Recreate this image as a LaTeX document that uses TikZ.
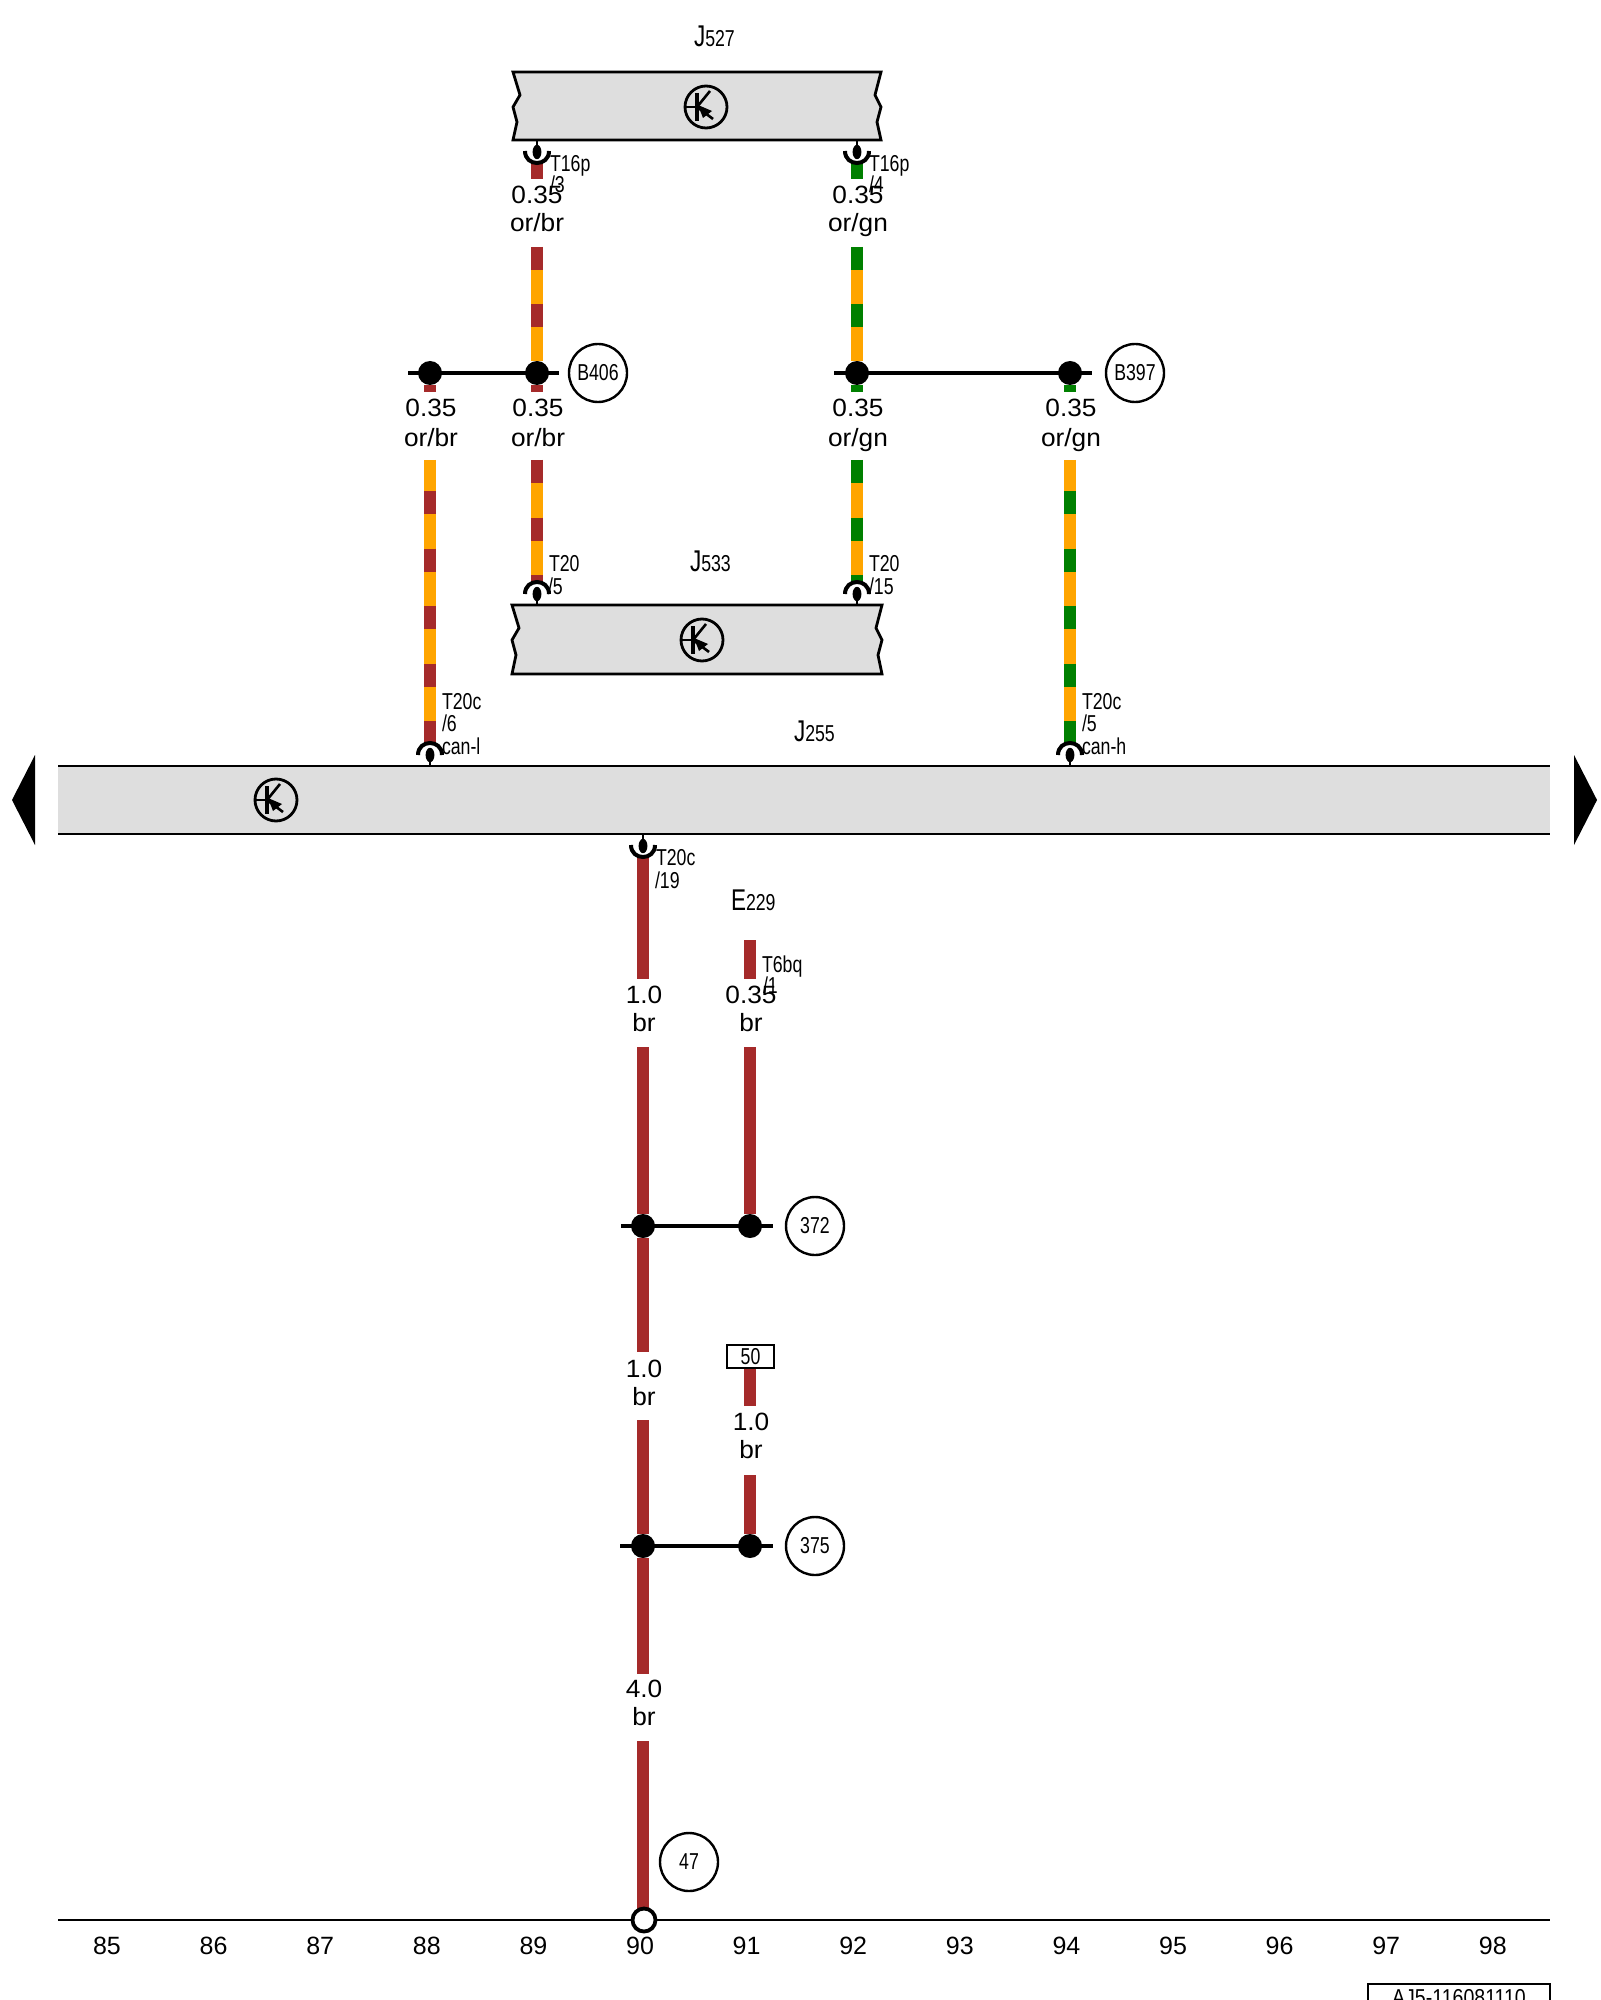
\documentclass[tikz,border=0pt]{standalone}
\usepackage{fontspec}
\setmainfont{Liberation Sans}
\newfontfamily\wirefont[FakeStretch=1.05]{Liberation Sans}
\definecolor{wbr}{HTML}{A52A2A}
\definecolor{wor}{HTML}{FFA500}
\definecolor{wgn}{HTML}{008000}
\definecolor{boxg}{HTML}{DEDEDE}
\newcommand{\nar}[1]{\scalebox{.77}[1]{\fontsize{11.5}{13}\selectfont #1}}
\newcommand{\compname}[2]{{\scalebox{.75}[1]{\fontsize{15}{16}\selectfont #1}\nar{#2}}}
\tikzset{
  thinlbl/.style={anchor=base west,inner sep=0pt,outer sep=0pt},
  wlbl/.style={anchor=base,inner sep=0pt,outer sep=0pt,font=\wirefont\fontsize{12.5}{14}\selectfont},
  numlbl/.style={anchor=base,inner sep=0pt,outer sep=0pt,font=\fontsize{12.5}{14}\selectfont},
  wire/.style={line width=5.75pt,line cap=butt},
  stripe/.style={line width=5.75pt,line cap=butt,dash pattern=on 11.5pt off 17.25pt},
  jdot/.style={circle,fill=black,inner sep=0pt,outer sep=0pt,minimum size=12pt},
  refc/.style={circle,draw=black,line width=1.2pt,inner sep=0pt,minimum size=29pt},
  jline/.style={line width=1.7pt},
  boxline/.style={draw=black,fill=boxg,line width=1.4pt,line join=miter},
  pics/trans/.style={code={
    \draw[line width=1.4pt] (0,0) circle[radius=10.5pt];
    \draw[line width=1.4pt] (-21,0) -- (-9,0);
    \draw[line width=1.9pt] (-9,-14) -- (-9,14);
    \draw[line width=1.3pt] (-9,0) -- (4,-16);
    \draw[line width=1.3pt] (-9,0) -- (7,12);
    \fill (-8,-2) -- (6,4) -- (-3,11) -- cycle;
  }},
  pics/sockdown/.style={code={
    \draw[line width=1.4pt] (0,0) -- (0,12);
    \fill (0,12) ellipse[x radius=2.2pt,y radius=3.6pt];
    \draw[line width=2pt] (-12,11) .. controls (-12,27) and (12,27) .. (12,11);
  }},
  pics/sockup/.style={code={
    \draw[line width=1.4pt] (0,0) -- (0,-12);
    \fill (0,-11) ellipse[x radius=2.2pt,y radius=3.6pt];
    \draw[line width=2pt] (-12,-11) .. controls (-12,-27) and (12,-27) .. (12,-11);
  }},
}
\newcommand{\wl}[6]{%
  \node[wlbl] (#1a) at (#2,#3) {#5};
  \node[wlbl] (#1b) at (#2,#4) {#6};}
\begin{document}
\begin{tikzpicture}[x=.5pt,y=-.5pt]
\useasboundingbox (0,0) rectangle (1600,2000);
\clip (0,0) rectangle (1600,2000);
% ---- modules
\path[boxline] (513,72) -- (881,72) -- (875,95) -- (881,107) -- (877,122) -- (881,140)
  -- (513,140) -- (517,122) -- (513,107) -- (520,95) -- cycle;
\pic at (706,107) {trans};
\path[boxline] (512,605) -- (882,605) -- (876,628) -- (882,640) -- (878,655) -- (882,674)
  -- (512,674) -- (516,655) -- (512,640) -- (519,628) -- cycle;
\pic at (702,640) {trans};
\fill[boxg] (58,766) rectangle (1550,834);
\draw[line width=1.4pt] (58,766) -- (1550,766) (58,834) -- (1550,834);
\pic at (276,800) {trans};
\fill (12,800) -- (35,755) -- (35,845) -- cycle;
\fill (1597,800) -- (1574,755) -- (1574,845) -- cycle;
% ---- junctions
\node[jdot] (d1) at (430,373) {};
\node[jdot] (d2) at (537,373) {};
\node[jdot] (d3) at (857,373) {};
\node[jdot] (d4) at (1070,373) {};
\node[jdot] (d5) at (643,1226) {};
\node[jdot] (d6) at (750,1226) {};
\node[jdot] (d7) at (643,1546) {};
\node[jdot] (d8) at (750,1546) {};
\coordinate (h1a) at (408,373); \coordinate (h1b) at (559,373);
\coordinate (h2a) at (834,373); \coordinate (h2b) at (1092,373);
\coordinate (h3a) at (621,1226); \coordinate (h3b) at (773,1226);
\coordinate (h4a) at (620,1546); \coordinate (h4b) at (773,1546);
\draw[jline] (h1a) -- (h1b);
\draw[jline] (h2a) -- (h2b);
\draw[jline] (h3a) -- (h3b);
\draw[jline] (h4a) -- (h4b);
% ---- reference circles
\node[refc] (cB406) at (598,373) {\nar{B406}};
\node[refc] (cB397) at (1135,373) {\nar{B397}};
\node[refc] (c372) at (815,1226) {\nar{372}};
\node[refc] (c375) at (815,1546) {\nar{375}};
\node[refc] (c47) at (689,1862) {\nar{47}};
\node[draw=black,line width=1.1pt,inner sep=0pt,minimum width=23.5pt,minimum height=11.5pt] (b50) at (750.5,1356.5) {\nar{50}};
% ---- wire end points
\coordinate (a1) at (537,163); \coordinate (a2) at (537,179);
\coordinate (a3) at (537,247); \coordinate (a4) at (537,392);
\coordinate (a5) at (537,460); \coordinate (a6) at (537,582);
\coordinate (b1) at (857,163); \coordinate (b2) at (857,179);
\coordinate (b3) at (857,247); \coordinate (b4) at (857,392);
\coordinate (b5) at (857,460); \coordinate (b6) at (857,582);
\coordinate (c1) at (430,392); \coordinate (c2) at (430,460); \coordinate (c3) at (430,742);
\coordinate (e1) at (1070,392); \coordinate (e2) at (1070,460); \coordinate (e3) at (1070,742);
\coordinate (f1) at (643,857); \coordinate (f2) at (643,979);
\coordinate (f3) at (643,1047); \coordinate (f4) at (643,1352);
\coordinate (f5) at (643,1420); \coordinate (f6) at (643,1674);
\coordinate (f7) at (643,1741); \coordinate (f8) at (643,1909);
\coordinate (g1) at (750,940); \coordinate (g2) at (750,979); \coordinate (g3) at (750,1047);
\coordinate (g4) at (750,1406); \coordinate (g5) at (750,1475);
% ---- wires: or/br
\draw[wire,wbr] (a1) -- (a2);
\draw[wire,wor] (a3) -- (d2.north);
\draw[stripe,wbr] (a3) -- (d2.north);
\draw[wire,wbr] (d2.south) -- (a4);
\draw[wire,wor] (a5) -- (a6);
\draw[stripe,wbr] (a5) -- (a6);
\draw[wire,wbr] (d1.south) -- (c1);
\draw[wire,wor] (c2) -- (c3);
\draw[stripe,wbr,dash phase=13.25pt] (c2) -- (c3);
% ---- wires: or/gn
\draw[wire,wgn] (b1) -- (b2);
\draw[wire,wor] (b3) -- (d3.north);
\draw[stripe,wgn] (b3) -- (d3.north);
\draw[wire,wgn] (d3.south) -- (b4);
\draw[wire,wor] (b5) -- (b6);
\draw[stripe,wgn] (b5) -- (b6);
\draw[wire,wgn] (d4.south) -- (e1);
\draw[wire,wor] (e2) -- (e3);
\draw[stripe,wgn,dash phase=13.25pt] (e2) -- (e3);
% ---- wires: br
\draw[wire,wbr] (f1) -- (f2);
\draw[wire,wbr] (f3) -- (d5.north);
\draw[wire,wbr] (d5.south) -- (f4);
\draw[wire,wbr] (f5) -- (d7.north);
\draw[wire,wbr] (d7.south) -- (f6);
\draw[wire,wbr] (f7) -- (f8);
\draw[wire,wbr] (g1) -- (g2);
\draw[wire,wbr] (g3) -- (d6.north);
\draw[wire,wbr] (b50.south -| g4) -- (g4);
\draw[wire,wbr] (g5) -- (d8.north);
% ---- sockets
\pic at (537,140) {sockdown};
\pic at (857,140) {sockdown};
\pic at (537,605) {sockup};
\pic at (857,605) {sockup};
\pic at (430,766) {sockup};
\pic at (1070,766) {sockup};
\pic at (643,834) {sockdown};
% ---- ground line and earth point
\draw[line width=1.4pt] (58,1920) -- (1550,1920);
\node[circle,draw=black,fill=white,line width=1.9pt,inner sep=0pt,minimum size=11.5pt] (gnd) at (644,1920) {};
% ---- connector labels
\node[thinlbl] (t1) at (550,172) {\nar{T16p}};
\node[thinlbl] (t1b) at (550,193) {\nar{/3}};
\node[thinlbl] (t2) at (869,172) {\nar{T16p}};
\node[thinlbl] (t2b) at (869,193) {\nar{/4}};
\node[thinlbl] (t3) at (549,571) {\nar{T20}};
\node[thinlbl] (t3b) at (548,594) {\nar{/5}};
\node[thinlbl] (t4) at (869,571) {\nar{T20}};
\node[thinlbl] (t4b) at (869,594) {\nar{/15}};
\node[thinlbl] (t5) at (442,709) {\nar{T20c}};
\node[thinlbl] (t5b) at (442,731) {\nar{/6}};
\node[thinlbl] (t5c) at (442,754) {\nar{can-l}};
\node[thinlbl] (t6) at (1082,709) {\nar{T20c}};
\node[thinlbl] (t6b) at (1082,731) {\nar{/5}};
\node[thinlbl] (t6c) at (1082,754) {\nar{can-h}};
\node[thinlbl] (t7) at (656,865) {\nar{T20c}};
\node[thinlbl] (t7b) at (655,888) {\nar{/19}};
\node[thinlbl] (t8) at (762,972) {\nar{T6bq}};
\node[thinlbl] (t8b) at (763,993) {\nar{/1}};
% ---- component names
\node[thinlbl] (J527) at (694,47) {\compname{J}{527}};
\node[thinlbl] (J533) at (690,571) {\compname{J}{533}};
\node[thinlbl] (J255) at (794,741) {\compname{J}{255}};
\node[thinlbl] (E229) at (731,910) {\compname{E}{229}};
% ---- wire labels
\wl{w1}{537}{204}{232}{0.35}{or/br}
\wl{w2}{858}{204}{232}{0.35}{or/gn}
\wl{w3}{431}{417}{446}{0.35}{or/br}
\wl{w4}{538}{417}{446}{0.35}{or/br}
\wl{w5}{858}{417}{446}{0.35}{or/gn}
\wl{w6}{1071}{417}{446}{0.35}{or/gn}
\wl{w7}{644}{1003}{1031}{1.0}{br}
\wl{w8}{751}{1003}{1031}{0.35}{br}
\wl{w9}{644}{1377}{1405}{1.0}{br}
\wl{w10}{751}{1430}{1458}{1.0}{br}
\wl{w11}{644}{1697}{1725}{4.0}{br}
% ---- grid numbers
\foreach \n [count=\i from 0] in {85,...,98} {
  \node[numlbl] (n\n) at (107+106.6*\i,1954) {\n};
}
% ---- drawing number
\node[draw=black,line width=1.4pt,inner sep=0pt,minimum width=91pt,minimum height=30pt] (docbox) at (1459,2014) {};
\node[anchor=base,inner sep=0pt] (doc) at (1459,2005) {\scalebox{.85}[1]{\fontsize{11.5}{13}\selectfont AJ5-116081110}};
\end{tikzpicture}
\end{document}
